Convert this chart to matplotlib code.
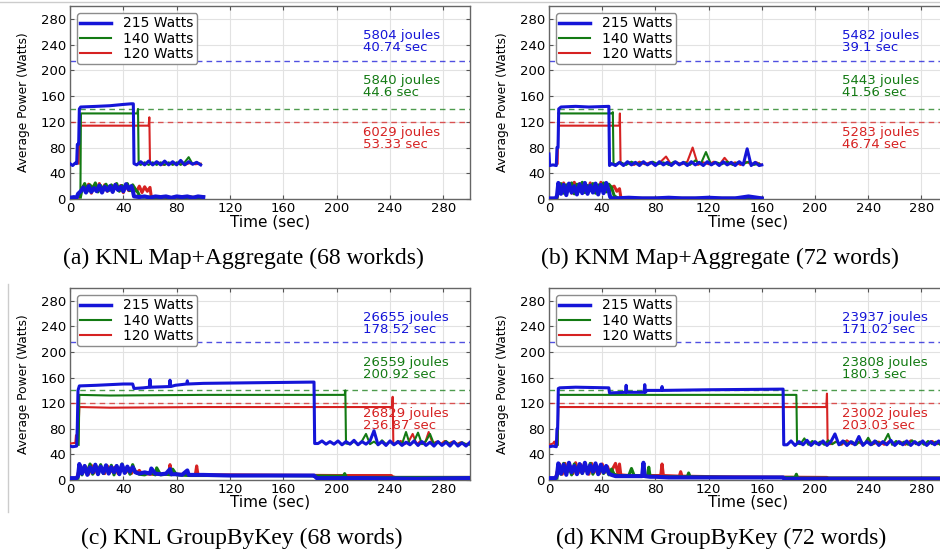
import numpy as np
import matplotlib
matplotlib.use("Agg")
import matplotlib.pyplot as plt
from matplotlib.lines import Line2D

caps = ["215 Watts", "140 Watts", "120 Watts"]
cap_levels = [215, 140, 120]
colors = ["#1515d8", "#137a13", "#d62222"]

# ---- (a) KNL Map+Aggregate ----
A_T215 = [0, 2, 4, 5, 5.5, 6.5, 7, 8, 20, 30, 40, 46, 47.5, 48] + list(range(50, 101, 3))
A_W215 = [55, 52, 56, 55, 85, 85, 140, 143, 144, 145, 147, 148, 148, 55,
          53, 58, 53, 59, 53, 58, 53, 59, 53, 58, 53, 60, 53, 58, 54, 57, 53]
A_T140 = [7.8, 8.2, 20, 40, 50.5, 51, 51.5] + list(range(53, 101, 3))
A_W140 = [4, 133, 133, 133, 133, 140, 55,
          53, 57, 53, 57, 53, 57, 53, 57, 53, 57, 53, 57, 65, 54, 57, 54]
A_T120 = [6.5, 7, 20, 40, 59, 59.5, 60] + list(range(62, 101, 4))
A_W120 = [55, 114, 114, 114, 114, 127, 55, 54, 57, 53, 56, 54, 57, 53, 56, 54, 55]
A_M215_T = [0, 3, 5, 6, 7] + list(range(8, 47, 2)) + [47, 48] + list(range(52, 101, 4))
A_M215_W = [2, 3, 2, 8, 10,
            12, 18, 10, 20, 11, 17, 12, 21, 10, 19, 13, 20, 11, 22, 14, 19, 12, 23, 15, 20,
            14, 4, 3, 4, 2, 4, 3, 4, 2, 4, 3, 4, 2, 4, 3]
A_M140_T = [7.8] + list(range(9, 52, 2)) + [52, 55] + list(range(60, 101, 5))
A_M140_W = [3, 15, 24, 12, 22, 16, 25, 11, 21, 14, 23, 13, 22, 15, 24, 12, 21, 16, 24, 13, 22, 15, 10,
            5, 3, 3, 2, 3, 2, 3, 2, 3, 2, 3]
A_M120_T = [6.5] + list(range(8, 61, 2)) + [61] + list(range(65, 101, 5))
A_M120_W = [3, 10, 20, 12, 23, 9, 21, 13, 24, 10, 22, 12, 20, 11, 23, 14, 21, 10, 22, 13, 20,
            18, 12, 20, 10, 19, 12, 18, 3, 2, 3, 2, 3, 2, 3, 2, 3]

# ---- (b) KNM Map+Aggregate ----
B_T215 = [0, 0.5, 3, 5.5, 6, 6.8, 7.3, 9, 20, 30, 45, 45.5] + list(range(47, 161, 3)) + [160]
B_W215 = [70, 52, 53, 52, 80, 80, 140, 143, 144, 143, 144, 52,
          55, 52, 57, 52, 58, 53, 57, 52, 58, 53, 57, 52, 58, 53, 57, 52, 58, 53, 57, 52,
          58, 53, 57, 52, 58, 53, 57, 52, 58, 53, 57, 52, 58, 53, 78, 52, 57, 52, 53]
B_T140 = [7, 9, 30, 47.5, 48, 48.5] + list(range(50, 161, 4))
B_W140 = [133, 133, 133, 133, 135, 55,
          54, 57, 53, 58, 54, 57, 53, 58, 54, 57, 53, 58, 54, 57, 53, 60, 54, 73, 53, 57,
          54, 58, 53, 57, 54, 58, 53, 55]
B_T120 = [6.5, 7, 7.5, 20, 40, 53, 53.3, 53.8] + list(range(56, 161, 4))
B_W120 = [55, 118, 114, 114, 114, 114, 133, 55,
          54, 57, 53, 58, 54, 57, 53, 58, 66, 53, 57, 54, 58, 80, 53, 57, 54, 58, 53, 64,
          54, 57, 53, 58, 54, 57, 53]
B_M215_T = [0, 5, 6] + list(range(7, 46, 2)) + [46, 47] + list(range(50, 161, 10))
B_M215_W = [1, 1, 5, 25, 8, 22, 6, 24, 10, 20, 7, 23, 9, 25, 8, 21, 10, 24, 7, 22, 9, 25, 12,
            3, 1, 1, 2, 1, 1, 2, 1, 1, 2, 1, 1, 4, 1]
B_M140_T = [6] + list(range(7, 49, 2)) + [49, 52] + list(range(60, 161, 20))
B_M140_W = [2, 12, 24, 9, 22, 14, 25, 8, 23, 12, 26, 10, 21, 13, 24, 9, 22, 15, 25, 11, 23, 18,
            5, 1, 1, 1, 1, 1, 1, 1]
B_M120_T = [6] + list(range(7, 54, 2)) + [54, 56] + list(range(60, 161, 20))
B_M120_W = [2, 20, 10, 25, 12, 22, 9, 26, 11, 24, 13, 21, 10, 25, 12, 23, 9, 26, 14, 22, 11,
            18, 20, 12, 16, 3, 1, 1, 1, 1, 1, 1, 1]

# ---- (c) KNL GroupByKey ----
C_T215 = [0, 2, 5, 5.5, 6, 7, 20, 40, 47, 48, 55, 59.5, 60, 60.5, 74.5, 75, 75.5, 79,
          87.5, 88, 88.5, 100, 140, 183, 183.5] + list(range(186, 301, 3))
C_W215 = [53, 52, 53, 85, 140, 147, 148, 150, 150, 143, 144, 145, 157, 145, 146, 156, 146, 148,
          150, 155, 150, 151, 152, 153, 57,
          57, 61, 56, 60, 56, 61, 55, 60, 56, 62, 55, 60, 56, 61, 77, 55, 60, 54, 61, 55,
          60, 54, 59, 55, 61, 54, 60, 54, 59, 53, 60, 54, 59, 53, 60, 53, 58, 53, 59]
C_T140 = [6.5, 7, 30, 100, 206, 206.5, 207] + list(range(210, 301, 3))
C_W140 = [55, 133, 132, 133, 133, 140, 57,
          56, 60, 55, 61, 72, 56, 60, 55, 62, 56, 60, 55, 61, 56, 75, 55, 60, 74, 56, 61,
          72, 56, 60, 55, 61, 56, 60, 55, 59, 56, 55]
C_T120 = [0, 4, 4.5, 5, 6, 7, 30, 100, 241.5, 242, 242.5] + list(range(245, 301, 3)) + [300]
C_W120 = [57, 58, 70, 55, 57, 114, 113, 114, 114, 130, 57,
          57, 61, 56, 60, 72, 56, 61, 56, 75, 57, 60, 56, 61, 57, 60, 56, 59, 56, 57, 56]
C_M215_T = [0, 5, 6] + list(range(7, 49, 2)) + [49, 52, 56, 60, 61, 64, 68, 72, 75, 76, 80, 84,
                                                88, 89, 92, 100, 120, 140, 160, 183, 184, 185,
                                                220, 260, 300]
C_M215_W = [3, 3, 6, 25, 10, 22, 8, 20, 12, 24, 9, 21, 11, 23, 10, 20, 12, 22, 9, 24, 11, 21, 13, 20,
            12, 10, 12, 10, 18, 10, 9, 10, 17, 9, 9, 8, 15, 8, 8, 8, 7, 7, 7, 7, 5, 3, 3, 2, 3]
C_M140_T = [6] + list(range(7, 51, 2)) + [52, 56, 60, 64, 65, 68, 72, 76, 77, 80, 90, 100, 150,
                                          205, 206, 207, 208, 250, 300]
C_M140_W = [3, 18, 8, 22, 12, 25, 9, 21, 14, 24, 10, 20, 13, 23, 8, 22, 11, 25, 12, 20, 9, 24, 12,
            9, 8, 12, 8, 19, 8, 9, 8, 17, 8, 7, 7, 7, 6, 10, 5, 4, 4, 4]
C_M120_T = [5] + list(range(6, 56, 2)) + [56, 60, 74, 75, 76, 80, 94, 95, 96, 100, 120, 200,
                                          241, 242, 244, 300]
C_M120_W = [3, 10, 22, 12, 20, 9, 23, 11, 21, 14, 19, 10, 22, 12, 18, 20, 10, 19, 16, 12, 18,
            10, 17, 11, 15, 9, 10, 9, 9, 24, 9, 9, 8, 22, 8, 8, 8, 7, 7, 5, 4, 4]

# ---- (d) KNM GroupByKey ----
D_T215 = [0, 3, 5.5, 6, 6.5, 7, 8, 20, 45, 45.5, 57.5, 58, 58.5, 71.5, 72, 72.5, 73.5,
          84.5, 85, 85.5, 120, 176, 176.5] + list(range(179, 301, 3))
D_W215 = [52, 53, 52, 80, 80, 143, 144, 145, 144, 136, 137, 148, 137, 137, 149, 137, 140,
          140, 146, 140, 141, 142, 55,
          55, 61, 54, 60, 55, 62, 54, 60, 55, 61, 54, 60, 72, 55, 61, 54, 60, 55, 68, 54,
          60, 55, 61, 54, 60, 55, 62, 54, 60, 55, 61, 54, 60, 55, 61, 54, 60, 55, 61, 54, 60]
D_T140 = [6.5, 7, 40, 120, 186, 186.5] + list(range(189, 301, 3))
D_W140 = [55, 133, 133, 133, 133, 57,
          56, 65, 55, 61, 56, 60, 55, 62, 56, 60, 55, 61, 56, 60, 55, 61, 56, 66, 55, 61,
          56, 60, 72, 55, 61, 56, 60, 55, 62, 56, 60, 55, 61, 56, 60, 55, 61, 56]
D_T120 = [0, 3, 4, 5, 6.5, 7, 40, 120, 208.5, 209, 209.5] + list(range(212, 301, 4))
D_W120 = [55, 57, 60, 52, 55, 114, 114, 114, 114, 135, 57,
          56, 60, 55, 62, 56, 60, 55, 61, 56, 60, 55, 61, 56, 60, 55, 62, 56, 60, 55, 61,
          56, 60, 55]
D_M215_T = [0, 5, 6] + list(range(7, 47, 2)) + [47, 50, 60, 70, 71, 72, 76, 80, 90, 100, 140,
                                                176, 177, 178, 240, 300]
D_M215_W = [3, 3, 8, 26, 10, 24, 8, 27, 12, 22, 9, 25, 11, 27, 10, 23, 13, 26, 9, 24, 12, 22, 10,
            8, 6, 6, 6, 27, 6, 5, 5, 4, 4, 4, 4, 2, 2, 2, 2]
D_M140_T = [6] + list(range(7, 51, 2)) + [52, 60, 62, 64, 70, 74, 75, 76, 90, 104, 105, 106, 140,
                                          185, 186, 187, 250, 300]
D_M140_W = [3, 22, 9, 26, 12, 20, 8, 25, 11, 24, 10, 21, 13, 26, 9, 23, 12, 20, 10, 19, 8, 17, 9,
            7, 7, 18, 7, 6, 6, 20, 6, 5, 5, 11, 5, 4, 4, 9, 3, 3, 3]
D_M120_T = [5] + list(range(6, 50, 2)) + [50, 52, 53, 54, 60, 84, 85, 86, 98, 99, 100, 130,
                                          209, 210, 300]
D_M120_W = [3, 12, 25, 9, 26, 13, 22, 10, 27, 11, 24, 14, 20, 9, 26, 12, 22, 10, 25, 12, 21, 9, 18,
            26, 8, 25, 8, 7, 7, 25, 7, 6, 13, 6, 5, 4, 3, 3]

energy = {
    "a": [("5804 joules", "40.74 sec"), ("5840 joules", "44.6 sec"), ("6029 joules", "53.33 sec")],
    "b": [("5482 joules", "39.1 sec"), ("5443 joules", "41.56 sec"), ("5283 joules", "46.74 sec")],
    "c": [("26655 joules", "178.52 sec"), ("26559 joules", "200.92 sec"), ("26829 joules", "236.87 sec")],
    "d": [("23937 joules", "171.02 sec"), ("23808 joules", "180.3 sec"), ("23002 joules", "203.03 sec")],
}
captions = {
    "a": "(a) KNL Map+Aggregate (68 workds)",
    "b": "(b) KNM Map+Aggregate (72 words)",
    "c": "(c) KNL GroupByKey (68 words)",
    "d": "(d) KNM GroupByKey (72 words)",
}

panels = {
    "a": [(A_T215, A_W215, A_M215_T, A_M215_W), (A_T140, A_W140, A_M140_T, A_M140_W),
          (A_T120, A_W120, A_M120_T, A_M120_W)],
    "b": [(B_T215, B_W215, B_M215_T, B_M215_W), (B_T140, B_W140, B_M140_T, B_M140_W),
          (B_T120, B_W120, B_M120_T, B_M120_W)],
    "c": [(C_T215, C_W215, C_M215_T, C_M215_W), (C_T140, C_W140, C_M140_T, C_M140_W),
          (C_T120, C_W120, C_M120_T, C_M120_W)],
    "d": [(D_T215, D_W215, D_M215_T, D_M215_W), (D_T140, D_W140, D_M140_T, D_M140_W),
          (D_T120, D_W120, D_M120_T, D_M120_W)],
}

W, H = 940, 556
fig = plt.figure(figsize=(W / 100, H / 100), dpi=100)

# axes boxes in pixels: left, top, right, bottom
boxes = {"a": (70, 6, 470, 199), "b": (549, 6, 948, 199),
         "c": (70, 288, 470, 480), "d": (549, 288, 948, 480)}
cap_pos = {"a": (243, 258), "b": (720, 258), "c": (242, 538), "d": (721, 538)}

lws = [2.2, 1.5, 1.5]

for key in ["a", "b", "c", "d"]:
    l, t, r, b = boxes[key]
    ax = fig.add_axes([l / W, 1 - b / H, (r - l) / W, (b - t) / H])
    series = panels[key]
    # red first, blue last so blue sits on top
    for i in [2, 1, 0]:
        tt, ww, mt, mw = series[i]
        ax.plot(mt, mw, color=colors[i], lw=lws[i] + 0.7, zorder=3 + (2 - i))
        ax.plot(tt, ww, color=colors[i], lw=lws[i], zorder=3 + (2 - i))
    for i in range(3):
        ax.axhline(cap_levels[i], color=colors[i], ls="--", lw=1.0, alpha=0.75, dashes=(4, 3), zorder=2)
    handles = [Line2D([], [], color=colors[i], lw=lws[i] + (0.3 if i == 0 else 0)) for i in range(3)]
    ax.legend(handles, caps, loc="upper left", fontsize=10, handlelength=2.2,
              labelspacing=0.08, borderpad=0.25, handletextpad=0.9, edgecolor="0.55",
              framealpha=1, fancybox=True, borderaxespad=0.5)
    for i, (y1, y2) in enumerate([(254, 235), (184, 165), (104, 85)]):
        ax.text(220, y1, energy[key][i][0], color=colors[i], fontsize=9.5, va="center", ha="left", zorder=6)
        ax.text(220, y2, energy[key][i][1], color=colors[i], fontsize=9.5, va="center", ha="left", zorder=6)
    ax.set_xlim(0, 300)
    ax.set_ylim(0, 300)
    ax.set_xticks(range(0, 281, 40))
    ax.set_yticks(range(0, 281, 40))
    ax.grid(True, color="#e2e2e2", lw=0.8)
    ax.set_axisbelow(True)
    ax.tick_params(direction="in", top=True, right=True, length=3, width=0.8,
                   labelsize=9.5, color="#555555")
    ax.tick_params(axis="x", pad=2.5)
    ax.tick_params(axis="y", pad=3)
    for s in ax.spines.values():
        s.set_color("#666666")
        s.set_linewidth(1.0)
    ax.set_xlabel("Time (sec)", fontsize=11)
    ax.xaxis.set_label_coords(0.5, -0.078)
    ax.set_ylabel("Average Power (Watts)", fontsize=8.8)
    ax.yaxis.set_label_coords(-0.1, 0.5)
    cx, cy = cap_pos[key]
    fig.text(cx / W, 1 - cy / H, captions[key], fontsize=17, family="Liberation Serif",
             ha="center", va="center")

# thin page-edge lines seen in the scan
fig.add_artist(Line2D([0, 1], [1 - 1.5 / H, 1 - 1.5 / H], color="#cccccc", lw=1))
fig.add_artist(Line2D([8 / W, 8 / W], [1 - 284 / H, 1 - 512 / H], color="#cccccc", lw=1))

fig.savefig("out.png", dpi=100)
